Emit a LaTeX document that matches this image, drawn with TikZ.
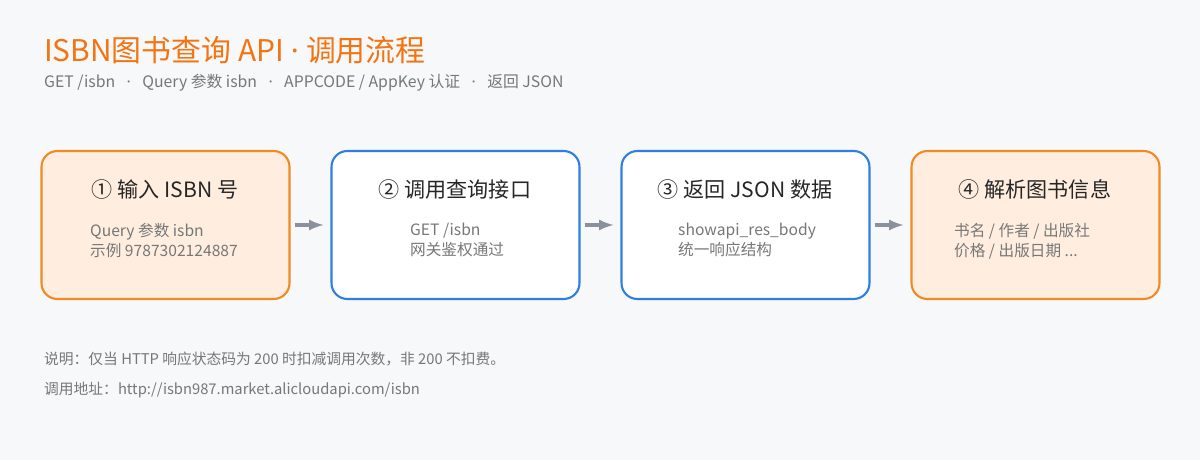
\documentclass[tikz,border=0pt]{standalone}
\usepackage{fontspec}
\setmainfont{Noto Sans CJK SC}
\newfontfamily\latinf{Noto Sans}
\usetikzlibrary{positioning}
\definecolor{bgc}{HTML}{F7F8FA}
\definecolor{orc}{HTML}{F08A24}
\definecolor{ttc}{HTML}{F27412}
\definecolor{orf}{HTML}{FFEEDF}
\definecolor{blc}{HTML}{2F7FE0}
\definecolor{txc}{HTML}{777777}
\definecolor{arc}{HTML}{8A919C}
\newcommand\middot{{\latinf ·}}
\newcommand\sepdot{\hspace{6.5pt}\middot\hspace{6.5pt}}
\tikzset{
  stepbox/.style={draw=#1,line width=1.2pt,rounded corners=9pt,minimum width=4.96cm,minimum height=2.96cm},
  steptitle/.style={font=\fontsize{12pt}{14pt}\selectfont,text=black!85},
  stepnote/.style={font=\fontsize{8.9pt}{11.5pt}\selectfont,text=txc,align=left},
  flow/.style={arc,line width=1.8pt,-latex}
}
\begin{document}
\begin{tikzpicture}[x=0.02cm,y=-0.02cm]
\fill[bgc](0,0)rectangle(1200,460);
\node[anchor=west,text=ttc,font=\fontsize{17pt}{19pt}\selectfont](title)at(38,50){ISBN图书查询 API\hspace{4pt}\middot\hspace{4pt}调用流程};
\node[anchor=west,text=txc,font=\fontsize{9pt}{10pt}\selectfont](sub)at(38,83){GET /isbn\sepdot Query 参数 isbn\sepdot APPCODE / AppKey 认证\sepdot 返回 JSON};
%steps
\node[stepbox=orc,fill=orf](s1)at(165.5,225){};
\node[stepbox=blc,fill=white](s2)at(455.5,225){};
\node[stepbox=blc,fill=white](s3)at(745.5,225){};
\node[stepbox=orc,fill=orf](s4)at(1035.5,225){};
\node[steptitle]at(165,189){① 输入 ISBN 号};
\node[steptitle]at(455,189){② 调用查询接口};
\node[steptitle]at(745,189){③ 返回 JSON 数据};
\node[steptitle]at(1035,189){④ 解析图书信息};
\node[stepnote,anchor=north west]at(84,217){Query 参数 isbn\\示例 9787302124887};
\node[stepnote,anchor=north west]at(404,217){GET /isbn\\网关鉴权通过};
\node[stepnote,anchor=north west]at(672,217){showapi\_res\_body\\统一响应结构};
\node[stepnote,anchor=north west]at(948,217){书名 / 作者 / 出版社\\价格 / 出版日期 ...};
\draw[flow](s1.east)++(4,0)--([xshift=-4pt]s2.west);
\draw[flow](s2.east)++(4,0)--([xshift=-4pt]s3.west);
\draw[flow](s3.east)++(4,0)--([xshift=-4pt]s4.west);
%notes
\node[anchor=west,text=txc,font=\fontsize{8.4pt}{9pt}\selectfont](n1)at(38,359){说明：仅当 HTTP 响应状态码为 200 时扣减调用次数，非 200 不扣费。};
\node[anchor=west,text=txc,font=\fontsize{8.4pt}{9pt}\selectfont](n2)at(38,390){调用地址：http://isbn987.market.alicloudapi.com/isbn};
\end{tikzpicture}
\end{document}
